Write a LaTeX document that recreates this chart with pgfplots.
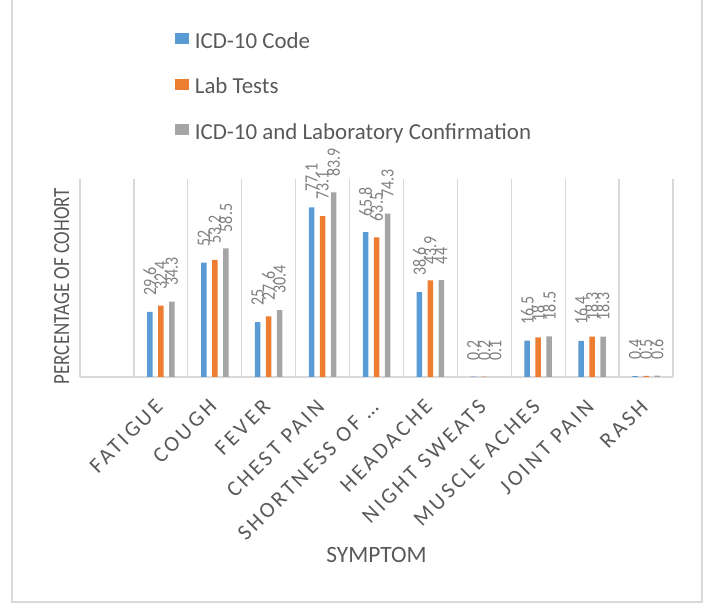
\documentclass[border=0pt]{standalone}
\usepackage{pgfplots}
\pgfplotsset{compat=1.18}
\usepackage{fontspec}
\setmainfont{Carlito}
\newfontfamily\tickfont[LetterSpace=14]{Carlito}
\definecolor{cBlue}{HTML}{5B9BD5}
\definecolor{cOrange}{HTML}{ED7D31}
\definecolor{cGray}{HTML}{A5A5A5}
\definecolor{gridgray}{HTML}{D9D9D9}
\definecolor{txtgray}{HTML}{595959}
\definecolor{lblgray}{HTML}{808080}

\begin{document}
\begin{tikzpicture}
\begin{axis}[
    at={(80bp,227bp)}, anchor=south west,
    scale only axis, width=593bp, height=198bp,
    ybar=5.5bp, bar width=5.5bp,
    enlargelimits=false, clip=false,
    xmin=-0.5, xmax=10.5, ymin=0, ymax=90,
    xtick={1,...,10},
    xticklabels={FATIGUE, COUGH, FEVER, CHEST PAIN, SHORTNESS OF …, HEADACHE, NIGHT SWEATS, MUSCLE ACHES, JOINT PAIN, RASH},
    xticklabel style={font=\tickfont\fontsize{22}{26}\selectfont, text=txtgray,
        inner sep=0pt, xshift=-7bp, yshift=-21bp, rotate=45, anchor=north east},
    minor xtick={-0.5,0.5,...,10.5},
    xminorgrids=true,
    minor x grid style={gridgray, line width=1.2bp},
    ytick=\empty,
    major tick length=0, minor tick length=0,
    tick style={draw=none},
    axis x line*=bottom, axis y line=none,
    x axis line style={gridgray, line width=1.2bp},
    nodes near coords={\scalebox{1}[1.18]{\pgfmathprintnumber\pgfplotspointmeta}},
    /pgf/number format/assume math mode=true,
    every node near coord/.append style={font=\fontsize{16}{19}\selectfont, text=lblgray,
        rotate=90, anchor=west, inner xsep=16bp, inner ysep=0pt},
    legend style={at={(0.160,1.74)}, anchor=north west, draw=none, fill=none,
        inner sep=0pt, outer sep=0pt, font=\fontsize{23}{27}\selectfont, text=txtgray,
        nodes={inner sep=0pt}, column sep=6bp, row sep=28bp},
    legend cell align=left,
    every axis plot post/.append style={
        /pgfplots/legend image code/.code={\path[##1, draw=none] (0bp,-3bp) rectangle (14bp,8bp);}},
]
\addplot[fill=cBlue, draw=none] coordinates {
    (1,29.6) (2,52) (3,25) (4,77.1) (5,65.8) (6,38.6) (7,0.2) (8,16.5) (9,16.4) (10,0.4)};
\addplot[fill=cOrange, draw=none] coordinates {
    (1,32.4) (2,53.2) (3,27.6) (4,73.1) (5,63.5) (6,43.9) (7,0.2) (8,18) (9,18.3) (10,0.5)};
\addplot[fill=cGray, draw=none] coordinates {
    (1,34.3) (2,58.5) (3,30.4) (4,83.9) (5,74.3) (6,44) (7,0.1) (8,18.5) (9,18.3) (10,0.6)};
\legend{ICD-10 Code, Lab Tests, ICD-10 and Laboratory Confirmation}
\end{axis}
% axis titles
\node[anchor=base, font=\fontsize{23.5}{28}\selectfont, text=txtgray] at (376.5bp,41bp) {SYMPTOM};
\node[rotate=90, anchor=base, font=\fontsize{19}{23}\selectfont, text=txtgray] at (69bp,318bp)
    {\scalebox{1}[1.22]{PERCENTAGE OF COHORT}};
% chart border
\draw[gridgray, line width=1.5bp] (12bp,620bp) -- (12bp,2bp) -- (702bp,2bp) -- (702bp,620bp);
\pgfresetboundingbox
\useasboundingbox (0bp,0bp) rectangle (706bp,604bp);
\end{tikzpicture}
\end{document}
